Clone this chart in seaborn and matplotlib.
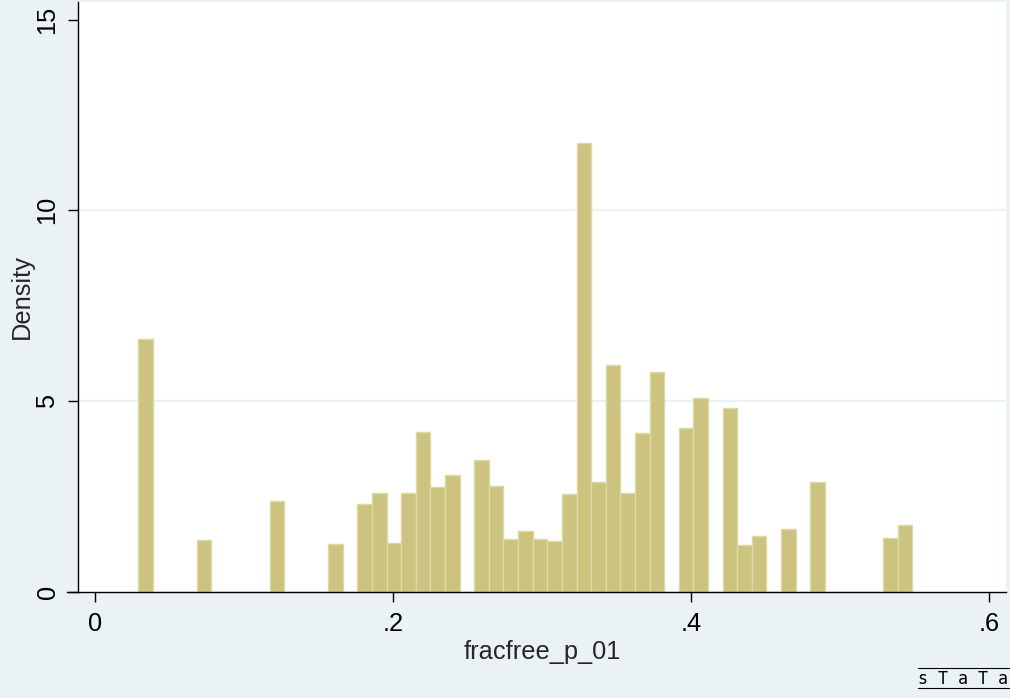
import numpy as np
import pandas as pd
import seaborn as sns
import matplotlib
matplotlib.use("Agg")
import matplotlib.pyplot as plt

# ---- data (Stata histogram, density scale) ----
bin_start = 0.0293
bin_width = 0.0098
density = [6.63, 0, 0, 0, 1.35, 0, 0, 0, 0, 2.37,
           0, 0, 0, 1.24, 0, 2.30, 2.58, 1.27, 2.58, 4.18,
           2.74, 3.07, 0, 3.45, 2.76, 1.37, 1.58, 1.39, 1.34, 2.55,
           11.76, 2.88, 5.95, 2.58, 4.17, 5.76, 0, 4.28, 5.07, 0,
           4.81, 1.22, 1.46, 0, 1.64, 0, 2.87, 0, 0, 0,
           0, 1.41, 1.74]
x_ticks = [0, 0.2, 0.4, 0.6]
x_ticklabels = ["0", ".2", ".4", ".6"]
y_ticks = [0, 5, 10, 15]
y_ticklabels = ["0", "5", "10", "15"]
x_title = "fracfree_p_01"
y_title = "Density"

nbins = len(density)
edges = [bin_start + bin_width * k for k in range(nbins + 1)]
centers = [(edges[k] + edges[k + 1]) / 2 for k in range(nbins)]
df = pd.DataFrame({"x": centers, "w": density})

sns.set_style("white")
plt.rcParams["font.family"] = ["Liberation Sans", "DejaVu Sans"]

BG = "#EAF2F3"
fig = plt.figure(figsize=(10.10, 6.98), dpi=100, facecolor=BG)
ax = fig.add_axes([0.0775, 0.1523, 0.9186, 0.8448])
ax.set_facecolor("white")

sns.histplot(data=df, x="x", weights="w", bins=edges, stat="count",
             color="#CBC37F", edgecolor="#DDD9A4", linewidth=1.0, alpha=1.0, ax=ax)

ax.set_xlim(-0.0110, 0.6115)
ax.set_ylim(0, 15.46)
ax.set_xticks(x_ticks)
ax.set_xticklabels(x_ticklabels)
ax.set_yticks(y_ticks)
ax.set_yticklabels(y_ticklabels)

ax.set_axisbelow(True)
ax.yaxis.grid(True, color=BG, linewidth=1.6)
ax.xaxis.grid(False)
gl = ax.get_ygridlines()
gl[0].set_visible(False)
gl[-1].set_visible(False)

for s in ["top", "right"]:
    ax.spines[s].set_visible(False)
for s in ["left", "bottom"]:
    ax.spines[s].set_color("black")
    ax.spines[s].set_linewidth(1.0)
ax.spines["bottom"].set_bounds(-0.0184, 0.6115)

ax.tick_params(axis="both", direction="out", length=7.5, width=1.0, color="black",
               labelsize=18.3, labelcolor="black", bottom=True, left=True)
ax.tick_params(axis="x", pad=7)
ax.tick_params(axis="y", pad=6, labelrotation=90)
for lab in ax.get_yticklabels():
    lab.set_va("center")

ax.set_xlabel(x_title, fontsize=18.3, labelpad=3)
ax.set_ylabel(y_title, fontsize=18.3, labelpad=1)

fig.text(0.909, 0.020, "s T a T a", fontsize=12, family="DejaVu Sans Mono",
         color="black", ha="left", va="baseline")
fig.add_artist(plt.Line2D([0.909, 1.0], [0.0430, 0.0430], transform=fig.transFigure,
                          color="black", linewidth=0.8))
fig.add_artist(plt.Line2D([0.909, 1.0], [0.0140, 0.0140], transform=fig.transFigure,
                          color="black", linewidth=0.8))

fig.savefig("out.png", dpi=100, facecolor=BG)
